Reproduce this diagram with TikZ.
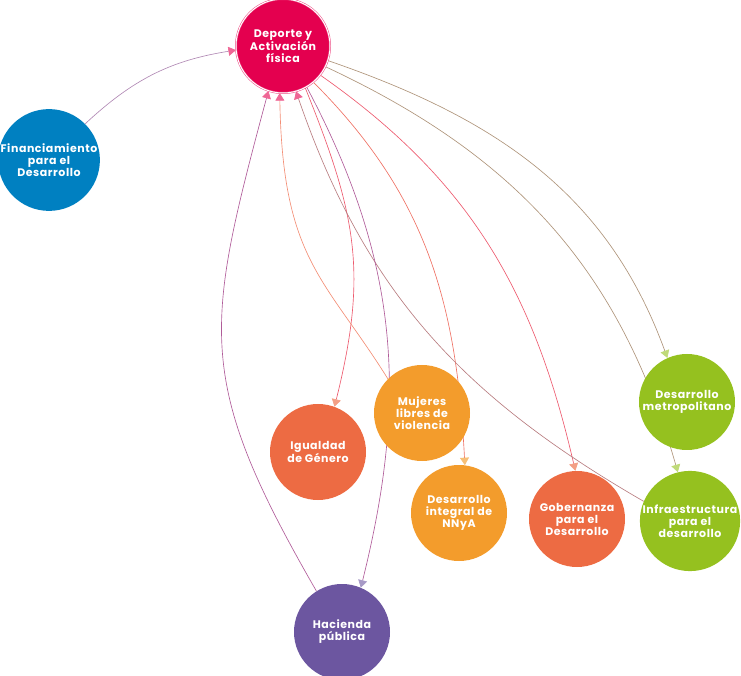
\documentclass[tikz,border=0pt]{standalone}
\usepackage{fontspec}
\setmainfont{Poppins}[LetterSpace=5]
\usetikzlibrary{arrows.meta,backgrounds}
\definecolor{deporte}{HTML}{E4004F}
\definecolor{finanzas}{HTML}{0080C1}
\definecolor{naranja}{HTML}{ED6B43}
\definecolor{ambar}{HTML}{F39C2C}
\definecolor{verde}{HTML}{95C11F}
\definecolor{morado}{HTML}{6C56A0}
\tikzset{
  eje/.style={circle, minimum size=96pt, inner sep=0pt, text=white, align=center,
    font=\bfseries\fontsize{11}{12}\selectfont},
  liga/.style={line width=0.65pt},
  punta/.style={-{Triangle[width=9pt,length=7.5pt,color=#1]}}
}
\begin{document}
\begin{tikzpicture}[x=1pt,y=1pt]
\useasboundingbox (0,0) rectangle (741,675);
\node[eje, fill=deporte, minimum size=94pt, draw=deporte!70, double=white, double distance=1pt, line width=0.5pt] (dep) at (283,629) {Deporte y\\Activación\\física};
\node[eje, fill=finanzas] (fin) at (49,515) {Financiamiento\\para el\\Desarrollo};
\node[eje, fill=naranja] (igu) at (318,223) {Igualdad\\de Género};
\node[eje, fill=ambar] (muj) at (422,262) {Mujeres\\libres de\\violencia};
\node[eje, fill=ambar] (nna) at (459,162) {Desarrollo\\integral de\\NNyA};
\node[eje, fill=naranja] (gob) at (577,156) {Gobernanza\\para el\\Desarrollo};
\node[eje, fill=verde] (met) at (687,273) {Desarrollo\\metropolitano};
\node[eje, fill=verde] (inf) at (690,154) {Infraestructura\\para el\\desarrollo};
\node[eje, fill=morado] (hac) at (342,43) {Hacienda\\pública};
\begin{scope}[on background layer]
\draw[liga, finanzas!45!deporte!60!white, punta=deporte!60] (fin.45) to[out=43,in=189] (dep.185);
\draw[liga, deporte!55!naranja!80!white, punta=naranja!65] (dep.-62) to[out=-68,in=76,looseness=1.1] (igu.70);
\draw[liga, ambar!60!deporte!70!white, punta=deporte!60] (muj.135) to[out=122,in=-89,in looseness=1.4] (dep.-94);
\draw[liga, deporte!50!ambar!80!white, punta=ambar!65] (dep.-50) to[out=-45,in=93] (nna.83);
\draw[liga, deporte!55!naranja!80!white, punta=naranja!65] (dep.-38) to[out=-35,in=103] (gob.92);
\draw[liga, deporte!40!verde!50!gray!80!white, punta=verde!60] (dep.-18) to[out=-19,in=110] (met.114);
\draw[liga, deporte!40!verde!50!gray!80!white, punta=verde!60] (dep.-26) to[out=-25,in=106] (inf.104);
\draw[liga, verde!30!deporte!50!gray!80!white, punta=deporte!60] (inf.157) to[out=150,in=-71] (dep.-74);
\draw[liga, morado!60!deporte!80!white, punta=deporte!60] (hac.122) to[out=120,in=-105,looseness=1.25] (dep.-108);
\draw[liga, deporte!40!morado!80!white, punta=morado!60] (dep.-60) to[out=-62,in=76] (hac.67);
\end{scope}
\end{tikzpicture}
\end{document}
